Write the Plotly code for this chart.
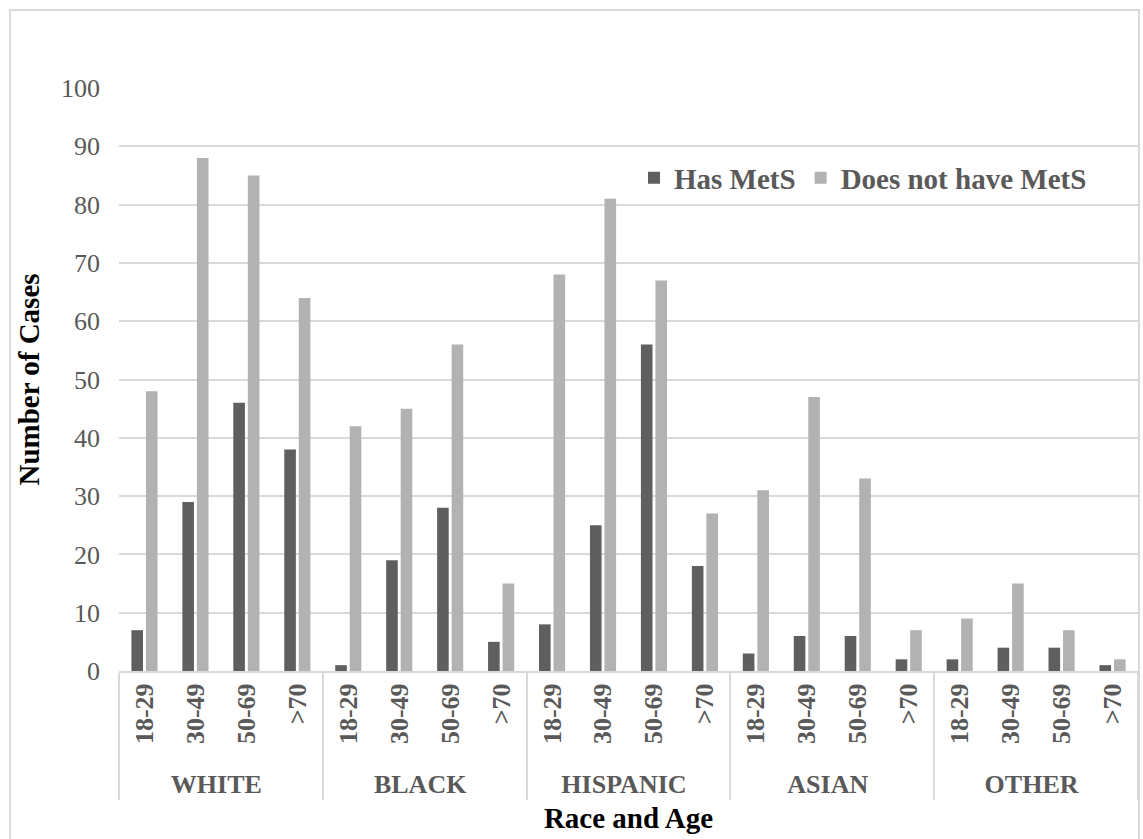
import plotly.graph_objects as go

races = ["WHITE", "BLACK", "HISPANIC", "ASIAN", "OTHER"]
age_groups = ["18-29", "30-49", "50-69", ">70"]

has_mets = [7, 29, 46, 38,
            1, 19, 28, 5,
            8, 25, 56, 18,
            3, 6, 6, 2,
            2, 4, 4, 1]
no_mets = [48, 88, 85, 64,
           42, 45, 56, 15,
           68, 81, 67, 27,
           31, 47, 33, 7,
           9, 15, 7, 2]

race_level = [r for r in races for _ in age_groups]
age_level = [a for _ in races for a in age_groups]

W, H = 1143, 839
ML, MR, MT, MB = 119, 5, 88, 168

FONT = "Liberation Serif, Times New Roman, serif"
GREY_TXT = "#595959"

fig = go.Figure()
fig.add_trace(go.Bar(x=[race_level, age_level], y=has_mets, name="Has MetS",
                     marker=dict(color="#5f5f5f", line=dict(width=0))))
fig.add_trace(go.Bar(x=[race_level, age_level], y=no_mets, name="Does not have MetS",
                     marker=dict(color="#b2b2b2", line=dict(width=0))))

# light frame around the whole chart
pw, ph = W - ML - MR, H - MT - MB
fig.add_shape(type="rect", xref="paper", yref="paper",
              x0=(10 - ML) / pw, x1=(1139 - ML) / pw,
              y0=(H - MB - 850) / ph, y1=(H - MB - 10) / ph,
              line=dict(color="#d9d9d9", width=2), fillcolor="rgba(0,0,0,0)",
              layer="below")

fig.update_layout(
    width=W, height=H,
    margin=dict(l=ML, r=MR, t=MT, b=MB),
    paper_bgcolor="white", plot_bgcolor="white",
    barmode="group", bargap=0.43, bargroupgap=0.2,
    font=dict(family=FONT, color=GREY_TXT),
    showlegend=True,
    legend=dict(orientation="h", x=(1092 - ML) / pw, y=(H - MB - 178) / ph,
                xanchor="right", yanchor="middle",
                font=dict(family=FONT, size=29, color=GREY_TXT, weight="bold"),
                bgcolor="rgba(0,0,0,0)", itemwidth=30, traceorder="normal"),
    xaxis=dict(type="multicategory", tickangle=-90,
               tickfont=dict(family=FONT, size=26, color=GREY_TXT, weight="bold"),
               showline=True, linecolor="#d9d9d9", linewidth=2,
               showdividers=True, dividercolor="#d9d9d9", dividerwidth=2,
               ticks="", showgrid=False,
               title=dict(text="Race and Age",
                          font=dict(family=FONT, size=29, color="black", weight="bold"),
                          standoff=10)),
    yaxis=dict(range=[0, 100], dtick=10, showgrid=True, gridcolor="#d9d9d9", gridwidth=2,
               zeroline=False, showline=False, ticks="", ticklabelstandoff=18,
               tickfont=dict(family=FONT, size=26, color=GREY_TXT),
               title=dict(text="Number of Cases",
                          font=dict(family=FONT, size=29, color="black", weight="bold"),
                          standoff=12)),
)

fig.write_html("out.html")
